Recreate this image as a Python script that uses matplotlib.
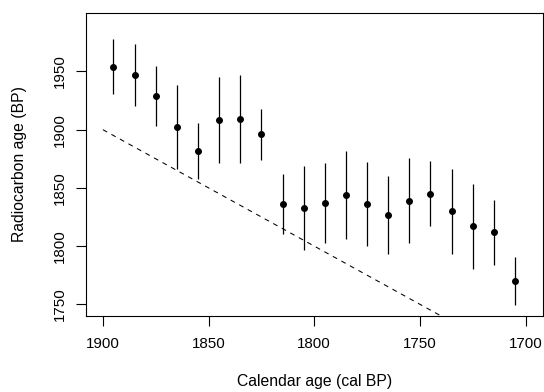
import matplotlib
matplotlib.use("Agg")

import matplotlib.pyplot as plt

# calendar ages (cal BP) and radiocarbon determinations with 2-sigma errors
cal_age = [1895, 1885, 1875, 1865, 1855, 1845, 1835, 1825, 1815, 1805,
           1795, 1785, 1775, 1765, 1755, 1745, 1735, 1725, 1715, 1705]
c14_age = [1954, 1947, 1929, 1902, 1882, 1908, 1909, 1896, 1836, 1833,
           1837, 1844, 1836, 1827, 1839, 1845, 1830, 1817, 1812, 1770]
c14_err = [23.5, 26.5, 26, 36, 24, 37, 38, 22, 26, 36,
           34.5, 38, 36, 33.5, 36.5, 28, 36.5, 36.5, 28, 21]

# identity line (cal age = radiocarbon age)
line_x = [1900, 1700]
line_y = [1900, 1700]

plt.rcParams["font.family"] = ["Liberation Sans", "DejaVu Sans"]
plt.rcParams["lines.scale_dashes"] = False

fig = plt.figure(figsize=(5.44, 3.92), dpi=100)
ax = fig.add_axes([86 / 544, 1 - 315.7 / 392, (542.5 - 86) / 544, (315.7 - 13.3) / 392])

ax.plot(line_x, line_y, color="black", lw=0.75, dashes=(3.5, 3.5))
ax.errorbar(cal_age, c14_age, yerr=c14_err, fmt="o", color="black",
            ms=4, elinewidth=0.9, capsize=0)

ax.set_xlim(1908, 1692)
ax.set_ylim(1740.2, 2000)
ax.set_xticks([1900, 1850, 1800, 1750, 1700])
ax.set_yticks([1750, 1800, 1850, 1900, 1950])

for side in ["left", "bottom", "right", "top"]:
    ax.spines[side].set_linewidth(0.8)
ax.tick_params(length=7, width=0.8, labelsize=10.9)
ax.tick_params(axis="x", pad=8)
ax.tick_params(axis="y", pad=7)
for lab in ax.get_yticklabels():
    lab.set_rotation(90)
    lab.set_va("center")

ax.set_xlabel("Calendar age (cal BP)", fontsize=11.3, va="baseline")
ax.xaxis.set_label_coords(0.5, -(386 - 315.7) / 302.4)
ax.set_ylabel("Radiocarbon age (BP)", fontsize=11.3, va="center")
ax.yaxis.set_label_coords(-(86 - 20) / 456.5, 0.5)

fig.savefig("out.png", dpi=100)
